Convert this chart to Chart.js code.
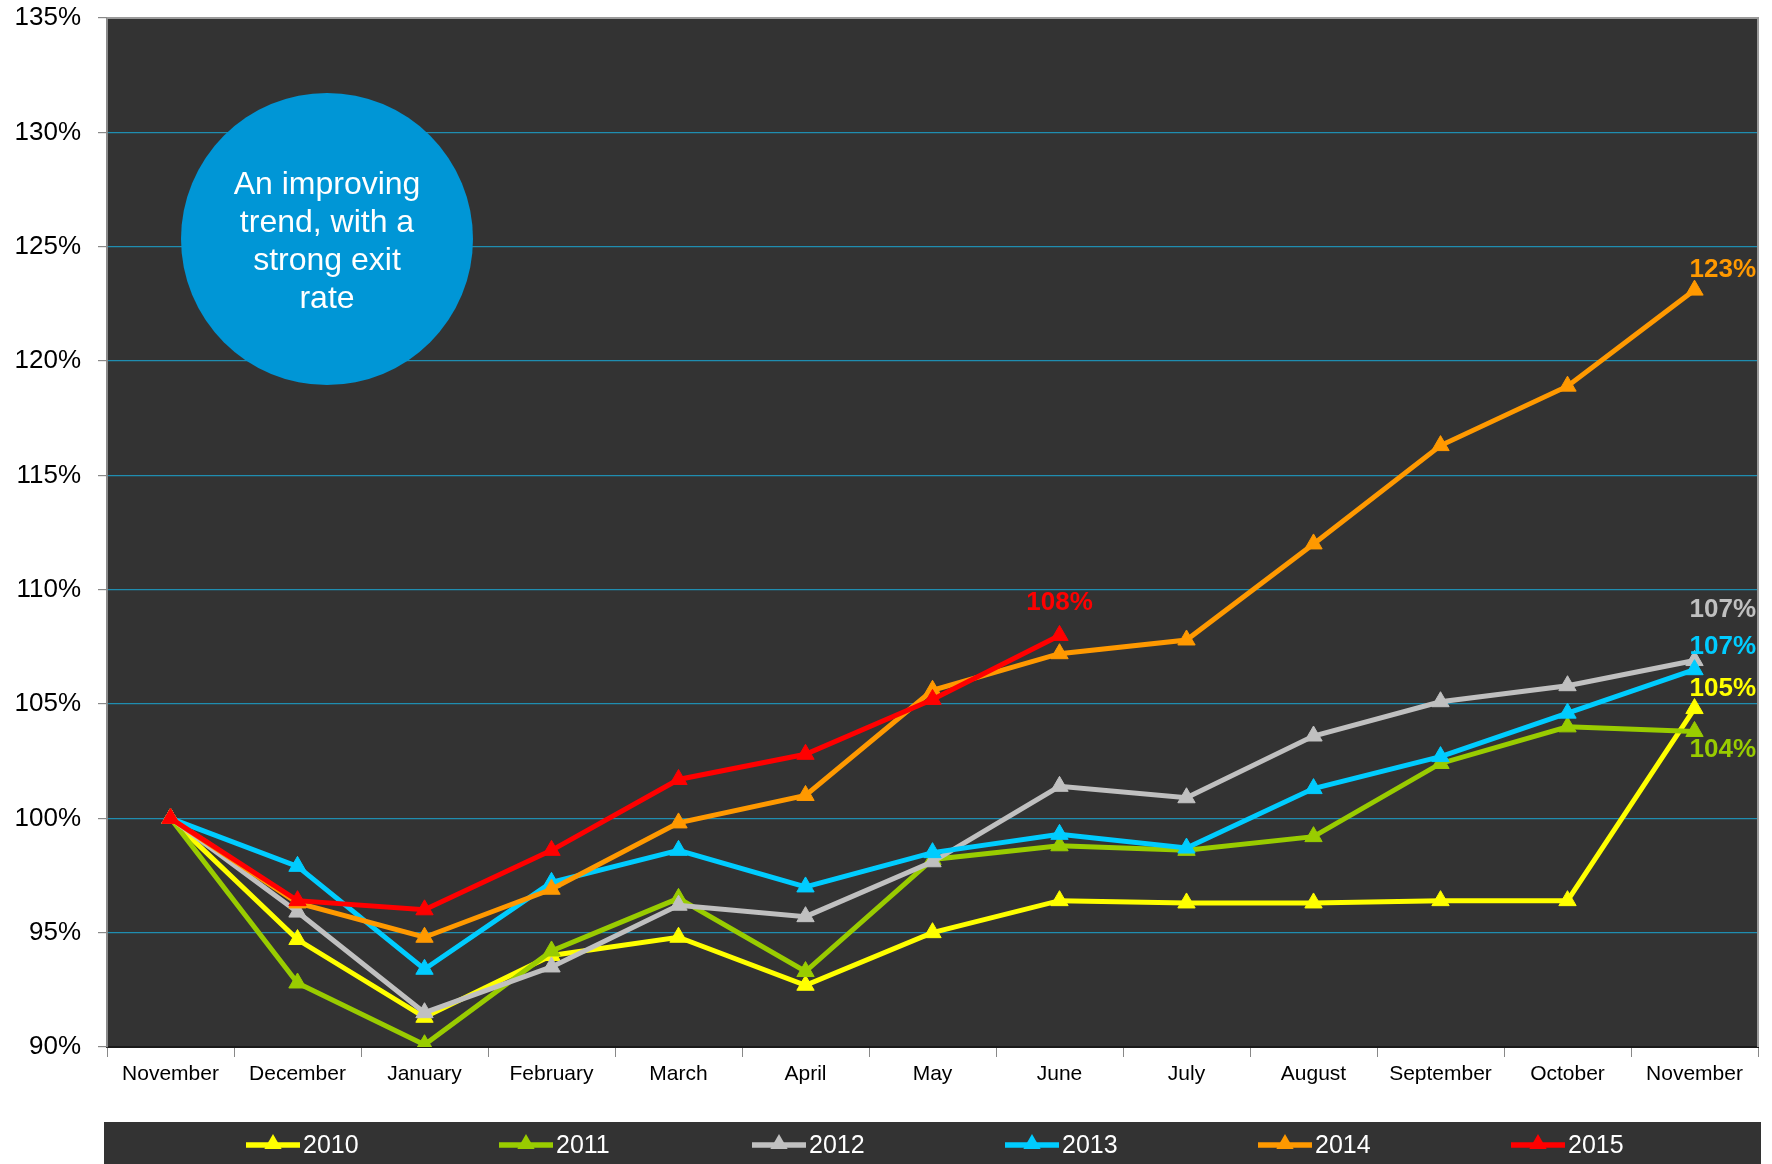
<!DOCTYPE html>
<html>
<head>
<meta charset="utf-8">
<script src="https://cdn.jsdelivr.net/npm/chart.js@4.4.1/dist/chart.umd.min.js"></script>
<style>
  html, body { margin: 0; padding: 0; background: #ffffff; }
  #wrap { width: 1772px; height: 1164px; }
</style>
</head>
<body>
<div id="wrap"><canvas id="trendChart" width="1772" height="1164"></canvas></div>
<script>
// mois (novembre -> novembre)
const months = ['November', 'December', 'January', 'February', 'March', 'April', 'May',
                'June', 'July', 'August', 'September', 'October', 'November'];
const years = ['2010', '2011', '2012', '2013', '2014', '2015'];
const yTicks = [90, 95, 100, 105, 110, 115, 120, 125, 130, 135];

// valeurs (%)
const s2010 = [100, 94.7, 91.3, 94.0, 94.8, 92.7, 95.0, 96.4, 96.3, 96.3, 96.4, 96.4, 104.8];
const s2011 = [100, 92.8, 90.1, 94.2, 96.5, 93.3, 98.2, 98.8, 98.6, 99.2, 102.4, 104.0, 103.8];
const s2012 = [100, 95.9, 91.5, 93.5, 96.2, 95.7, 98.1, 101.4, 100.9, 103.6, 105.1, 105.8, 106.9];
const s2013 = [100, 97.9, 93.4, 97.2, 98.6, 97.0, 98.5, 99.3, 98.7, 101.3, 102.7, 104.6, 106.5];
const s2014 = [100, 96.3, 94.8, 96.9, 99.8, 101.0, 105.6, 107.2, 107.8, 112.0, 116.3, 118.9, 123.1];
const s2015 = [100, 96.4, 96.0, 98.6, 101.7, 102.8, 105.2, 108.0, null, null, null, null, null];

const series = [s2010, s2011, s2012, s2013, s2014, s2015];
const colors = ['#ffff00', '#99cc00', '#c0c0c0', '#00ccff', '#ff9900', '#ff0000'];

const FONT = "'Liberation Sans', Arial, sans-serif";
const PLOT_BG = '#333333';
const GRID = '#1f8db0';

function drawTriangle(ctx, x, y, r, color) {
    const side = r * Math.sqrt(3);
    const h = side * Math.sqrt(3) / 2;
    ctx.beginPath();
    ctx.moveTo(x, y - 2 * h / 3);
    ctx.lineTo(x + side / 2, y + h / 3);
    ctx.lineTo(x - side / 2, y + h / 3);
    ctx.closePath();
    ctx.fillStyle = color;
    ctx.fill();
}

// fond de la zone de tracé
const plotBackground = {
    id: 'plotBackground',
    beforeDraw(chart) {
        const { ctx, chartArea: a } = chart;
        ctx.save();
        ctx.fillStyle = '#ffffff';
        ctx.fillRect(0, 0, chart.width, chart.height);
        ctx.fillStyle = PLOT_BG;
        ctx.fillRect(a.left, a.top, a.right - a.left, a.bottom - a.top);
        ctx.restore();
    }
};

// bulle bleue
const bubble = {
    id: 'bubble',
    beforeDatasetsDraw(chart) {
        const ctx = chart.ctx;
        const cx = 327, cy = 239, r = 146;
        ctx.save();
        ctx.beginPath();
        ctx.arc(cx, cy, r, 0, Math.PI * 2);
        ctx.fillStyle = '#0096d6';
        ctx.fill();
        ctx.fillStyle = '#ffffff';
        ctx.font = '32px ' + FONT;
        ctx.textAlign = 'center';
        ctx.textBaseline = 'middle';
        ['An improving', 'trend, with a', 'strong exit', 'rate'].forEach((line, i) => {
            ctx.fillText(line, cx, 185 + i * 38);
        });
        ctx.restore();
    }
};

// étiquettes de fin de série
const endLabels = {
    id: 'endLabels',
    afterDatasetsDraw(chart) {
        const ctx = chart.ctx;
        const offsets = { '2010': -20, '2011': 18, '2012': -51, '2013': -23, '2014': -20, '2015': -33 };
        ctx.save();
        ctx.font = 'bold 26px ' + FONT;
        ctx.textBaseline = 'middle';
        chart.data.datasets.forEach((ds, i) => {
            const meta = chart.getDatasetMeta(i);
            let idx = ds.data.length - 1;
            while (idx > 0 && ds.data[idx] == null) idx--;
            const pt = meta.data[idx];
            ctx.fillStyle = ds.borderColor;
            const text = Math.round(ds.data[idx]) + '%';
            if (idx === ds.data.length - 1) {
                ctx.textAlign = 'left';
                ctx.fillText(text, pt.x - 5, pt.y + offsets[ds.label]);
            } else {
                ctx.textAlign = 'center';
                ctx.fillText(text, pt.x, pt.y + offsets[ds.label]);
            }
        });
        ctx.restore();
    }
};

// cadre + légende maison
const frameAndLegend = {
    id: 'frameAndLegend',
    afterDraw(chart) {
        const { ctx, chartArea: a } = chart;
        ctx.save();
        ctx.strokeStyle = '#9a9a9a';
        ctx.lineWidth = 2;
        ctx.beginPath();
        ctx.moveTo(a.left, a.top);
        ctx.lineTo(a.right, a.top);
        ctx.lineTo(a.right, a.bottom);
        ctx.stroke();

        // bandeau de légende
        ctx.fillStyle = PLOT_BG;
        ctx.fillRect(104, 1122, 1657, 42);
        const y = 1145;
        years.forEach((yr, i) => {
            const x = 246 + i * 253;
            ctx.strokeStyle = colors[i];
            ctx.lineWidth = 5.5;
            ctx.beginPath();
            ctx.moveTo(x, y);
            ctx.lineTo(x + 54, y);
            ctx.stroke();
            drawTriangle(ctx, x + 27, y - 1, 10, colors[i]);
            ctx.fillStyle = '#ffffff';
            ctx.font = '25px ' + FONT;
            ctx.textAlign = 'left';
            ctx.textBaseline = 'middle';
            ctx.fillText(yr, x + 57, y + 1);
        });
        ctx.restore();
    }
};

const datasets = years.map((yr, i) => ({
    label: yr,
    data: series[i],
    borderColor: colors[i],
    backgroundColor: colors[i],
    borderWidth: 5,
    pointStyle: 'triangle',
    pointRadius: 10,
    pointBorderWidth: 1,
    pointHoverRadius: 10,
    tension: 0,
    spanGaps: false,
    order: years.length - i
}));

new Chart(document.getElementById('trendChart'), {
    type: 'line',
    data: { labels: months, datasets: datasets },
    options: {
        responsive: false,
        animation: false,
        devicePixelRatio: 1,
        layout: { padding: { top: 18, right: 14, left: 0, bottom: 0 } },
        plugins: {
            legend: { display: false },
            tooltip: { enabled: false }
        },
        scales: {
            x: {
                offset: true,
                grid: {
                    offset: true,
                    drawOnChartArea: false,
                    tickLength: 10,
                    tickColor: '#888888',
                    lineWidth: 1
                },
                border: { color: '#1a1a1a', width: 2 },
                ticks: {
                    color: '#000000',
                    font: { family: FONT, size: 21 },
                    padding: 5,
                    maxRotation: 0,
                    autoSkip: false
                },
                afterFit(scale) {
                    scale.height = 117;
                    scale.paddingLeft = 0;
                    scale.paddingRight = 0;
                }
            },
            y: {
                min: 90,
                max: 135,
                afterBuildTicks(scale) { scale.ticks = yTicks.map(v => ({ value: v })); },
                grid: {
                    color: c => (c.tick && c.tick.value > 90 && c.tick.value < 135) ? GRID : 'rgba(0,0,0,0)',
                    tickColor: '#888888',
                    tickLength: 9,
                    lineWidth: 1.2
                },
                border: { color: '#8a8a8a', width: 2 },
                ticks: {
                    color: '#000000',
                    font: { family: FONT, size: 26 },
                    padding: 17,
                    callback: v => v + '%'
                },
                afterFit(scale) {
                    scale.width = 107;
                    scale.paddingTop = 0;
                    scale.paddingBottom = 0;
                }
            }
        }
    },
    plugins: [plotBackground, bubble, endLabels, frameAndLegend]
});
</script>
</body>
</html>
